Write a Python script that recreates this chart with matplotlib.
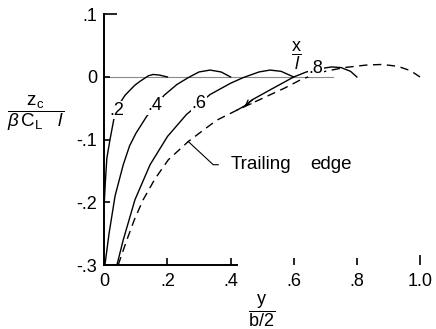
import matplotlib
matplotlib.use("Agg")
import matplotlib.pyplot as plt

plt.rcParams["font.family"] = ["Liberation Sans", "DejaVu Sans"]
plt.rcParams["mathtext.fontset"] = "custom"
plt.rcParams["mathtext.rm"] = "Liberation Sans"
plt.rcParams["mathtext.it"] = "Liberation Sans:italic"

# Spanwise station y/(b/2) and camber z_c/(beta C_L l) for each chordwise station x/l
span_02 = [0.0, 0.003, 0.008, 0.018, 0.03, 0.045, 0.066, 0.097, 0.113, 0.14, 0.155, 0.175, 0.2]
camber_02 = [-0.2, -0.17, -0.13, -0.1, -0.068, -0.045, -0.029, -0.013, -0.007, 0.002, 0.004, 0.003, 0.0]

span_04 = [0.002, 0.015, 0.034, 0.06, 0.08, 0.1, 0.134, 0.19, 0.23, 0.266, 0.3, 0.335, 0.37, 0.4]
camber_04 = [-0.3, -0.25, -0.19, -0.14, -0.11, -0.09, -0.063, -0.029, -0.012, -0.001, 0.008, 0.011, 0.008, 0.0]

span_06 = [0.04, 0.06, 0.097, 0.145, 0.2, 0.26, 0.335, 0.4, 0.44, 0.49, 0.525, 0.56, 0.6]
camber_06 = [-0.3, -0.26, -0.196, -0.14, -0.095, -0.06, -0.028, -0.01, -0.001, 0.008, 0.011, 0.009, 0.0]

span_08 = [0.42, 0.445, 0.47, 0.52, 0.56, 0.6, 0.64, 0.68, 0.72, 0.75, 0.78, 0.8]
camber_08 = [-0.053, -0.046, -0.036, -0.022, -0.011, 0.0, 0.008, 0.013, 0.016, 0.015, 0.009, 0.0]

span_te = [0.044, 0.07, 0.095, 0.123, 0.16, 0.203, 0.266, 0.3, 0.356, 0.42, 0.51, 0.57,
           0.62, 0.66, 0.7, 0.76, 0.83, 0.88, 0.93, 0.97, 1.0]
camber_te = [-0.3, -0.262, -0.228, -0.196, -0.163, -0.132, -0.103, -0.09, -0.069, -0.053, -0.032, -0.018,
             -0.005, 0.003, 0.009, 0.015, 0.019, 0.02, 0.017, 0.01, 0.0]

station_labels = [".2", ".4", ".6", ".8"]
x_ticks = [0, 0.2, 0.4, 0.6, 0.8, 1.0]
x_tick_labels = ["0", ".2", ".4", ".6", ".8", "1.0"]
y_ticks = [-0.3, -0.2, -0.1, 0, 0.1]
y_tick_labels = ["-.3", "-.2", "-.1", "0", ".1"]

W, H = 436, 329
fig = plt.figure(figsize=(W / 100, H / 100), dpi=100)
ax = fig.add_axes([104.3 / W, 64 / H, 315.7 / W, 250.7 / H])
ax.set_xlim(0, 1.0)
ax.set_ylim(-0.3, 0.1)

ink = "black"
lw_curve = 1.0
fs = 13

# reference line at zero camber
ax.plot([0, 0.725], [0, 0], color="#8a8a8a", lw=0.8, zorder=1)

ax.plot(span_02, camber_02, color=ink, lw=lw_curve, zorder=2, clip_on=False)
ax.plot(span_04, camber_04, color=ink, lw=lw_curve, zorder=2, clip_on=False)
ax.plot(span_06, camber_06, color=ink, lw=lw_curve, zorder=2, clip_on=False)
ax.plot(span_08, camber_08, color=ink, lw=lw_curve, zorder=2, clip_on=False)
ax.annotate("", xy=(span_08[1], camber_08[1]), xytext=(span_08[2], camber_08[2]),
            arrowprops=dict(arrowstyle="->,head_length=0.35,head_width=0.18", color=ink, lw=0.9,
                            shrinkA=0, shrinkB=0), zorder=3)
ax.plot(span_te, camber_te, color=ink, lw=lw_curve, linestyle=(0, (6, 4)), zorder=2, clip_on=False)

# curve labels
label_pos = [(0.04, -0.053), (0.16, -0.046), (0.30, -0.042), (0.67, 0.014)]
for txt, (lx, ly) in zip(station_labels, label_pos):
    ax.text(lx, ly, txt, fontsize=fs, ha="center", va="center", zorder=4,
            bbox=dict(facecolor="white", edgecolor="none", pad=0.5))

# trailing-edge leader
ax.plot([0.266, 0.345, 0.361], [-0.103, -0.14, -0.14], color=ink, lw=0.8, zorder=2)
ax.text(0.40, -0.14, "Trailing", fontsize=13.5, ha="left", va="center")
ax.text(0.652, -0.14, "edge", fontsize=13.5, ha="left", va="center")

# axes frame
for side in ("top", "right"):
    ax.spines[side].set_visible(False)
ax.spines["left"].set_linewidth(1.4)
ax.spines["bottom"].set_linewidth(1.4)
ax.spines["bottom"].set_bounds(0, 0.42)

ax.set_xticks(x_ticks)
ax.set_xticklabels(x_tick_labels)
ax.set_yticks(y_ticks)
ax.set_yticklabels(y_tick_labels)
ax.tick_params(axis="x", direction="in", length=5, width=1.2, pad=6, labelsize=fs)
ax.tick_params(axis="y", direction="in", length=4.5, width=1.2, pad=5, labelsize=fs)
ax.xaxis.get_major_ticks()[-1].tick1line.set_markersize(7)
ax.yaxis.get_major_ticks()[-1].tick1line.set_markersize(9)

# axis titles as stacked fractions
fig.text(36 / W, 1 - 113 / H, r"$\dfrac{\mathrm{z_c}}{\beta\,\mathrm{C_L}\quad\mathit{l}}$",
         fontsize=13.5, ha="center", va="center")
fig.text(262 / W, 1 - 311 / H, r"$\dfrac{\mathrm{y}}{\mathrm{b/2}}$",
         fontsize=13, ha="center", va="center")
fig.text(296 / W, 1 - 56 / H, r"$\dfrac{\mathrm{x}}{\mathit{l}}$",
         fontsize=13, ha="center", va="center")

fig.savefig("out.png", dpi=100)
